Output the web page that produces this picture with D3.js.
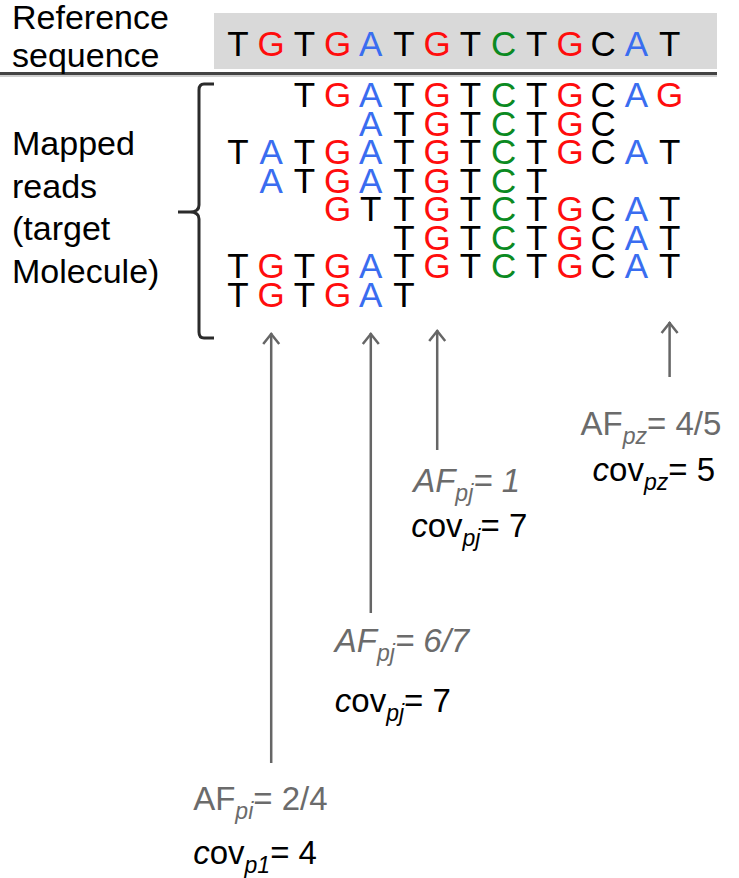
<!DOCTYPE html>
<html>
<head>
<meta charset="utf-8">
<script src="https://cdn.jsdelivr.net/npm/d3@7"></script>
<style>
  body { margin: 0; background: #fff; }
  text { font-family: "Liberation Sans", Arial, Helvetica, sans-serif; }
</style>
</head>
<body>
<div id="svg-container"></div>
<script>
// data
const refSeq = "TGTGATGTCTGCAT".split("");
const readStarts = [2, 4, 0, 1, 3, 5, 0, 0];
const readSeqs = ["TGATGTCTGCAG", "ATGTCTGC", "TATGATGTCTGCAT", "ATGATGTCT",
    "GTTGTCTGCAT", "TGTCTGCAT", "TGTGATGTCTGCAT", "TGTGAT"];
const siteCols = [1, 4, 6, 13];
const afSubs = ["pi", "pj", "pj", "pz"];
const afValues = ["2/4", "6/7", "1", "4/5"];
const afItalic = [false, true, true, false];
const covSubs = ["p1", "pj", "pj", "pz"];
const covValues = [4, 7, 7, 5];
const refLabel = ["Reference", "sequence"];
const readsLabel = ["Mapped", "reads", "(target", "Molecule)"];
const plainCCols = [11]; // the C in this column is drawn black

// layout of the annotations under the arrows
const arrowTop = [333, 333, 330, 322];
const arrowBottom = [763, 613, 450, 377];
const afDx = [-78, -36, -24, -89];
const covDx = [-78, -36, -26, -77];
const afY = [810, 652, 492, 435];
const covY = [864, 712, 537, 481];

const svgWidth = 739;
const svgHeight = 878;

const svg = d3.select("#svg-container")
    .append("svg")
    .attr("width", svgWidth)
    .attr("height", svgHeight);

const x = d3.scaleLinear().domain([0, refSeq.length - 1]).range([238, 669.6]);
const y = d3.scaleLinear().domain([0, readSeqs.length - 1]).range([107, 307]);

const baseColor = { T: "#000000", G: "#ff0d0d", A: "#3a6df0", C: "#0b8a22" };
const colorOf = (b, col) => (b === "C" && plainCCols.includes(col)) ? "#000000" : baseColor[b];

// grey box behind the reference
svg.append("rect")
    .attr("x", 214).attr("y", 13)
    .attr("width", 503).attr("height", 56)
    .attr("fill", "#d9d9d9");

// separator line
svg.append("line")
    .attr("x1", 0).attr("x2", 717)
    .attr("y1", 76).attr("y2", 76)
    .attr("stroke", "#cfcfcf").attr("stroke-width", 2);
svg.append("line")
    .attr("x1", 0).attr("x2", 717)
    .attr("y1", 73.5).attr("y2", 73.5)
    .attr("stroke", "#444").attr("stroke-width", 3);

// left labels
svg.selectAll(".ref-label")
    .data(refLabel)
    .join("text")
    .attr("class", "ref-label")
    .attr("x", 12)
    .attr("y", (d, i) => 29 + i * 38)
    .attr("font-size", 34)
    .text(d => d);

svg.selectAll(".reads-label")
    .data(readsLabel)
    .join("text")
    .attr("class", "reads-label")
    .attr("x", 12)
    .attr("y", (d, i) => 155 + i * 42.5)
    .attr("font-size", 34)
    .text(d => d);

// reference sequence
svg.selectAll(".ref-base")
    .data(refSeq)
    .join("text")
    .attr("class", "ref-base")
    .attr("x", (d, i) => x(i))
    .attr("y", 56)
    .attr("text-anchor", "middle")
    .attr("font-size", 35)
    .attr("fill", (d, i) => colorOf(d, i))
    .text(d => d);

// mapped reads
const readBases = readSeqs.flatMap((s, r) =>
    s.split("").map((b, k) => ({ b, row: r, col: readStarts[r] + k })));

svg.selectAll(".read-base")
    .data(readBases)
    .join("text")
    .attr("class", "read-base")
    .attr("x", d => x(d.col))
    .attr("y", d => y(d.row))
    .attr("text-anchor", "middle")
    .attr("font-size", 35)
    .attr("fill", d => colorOf(d.b, d.col))
    .text(d => d.b);

// brace
svg.append("path")
    .attr("d", "M 214 84 L 204 84 Q 199 84 199 90 L 199 205 Q 199 212 190 212 L 178 212 " +
        "L 190 212 Q 199 212 199 219 L 199 332 Q 199 338 204 338 L 214 338")
    .attr("fill", "none")
    .attr("stroke", "#2b2b2b")
    .attr("stroke-width", 3);

// arrows
siteCols.forEach((c, i) => {
    const ax = x(c);
    svg.append("line")
        .attr("x1", ax).attr("x2", ax)
        .attr("y1", arrowTop[i]).attr("y2", arrowBottom[i])
        .attr("stroke", "#666").attr("stroke-width", 2.5);
    svg.append("path")
        .attr("d", `M ${ax - 8} ${arrowTop[i] + 11} L ${ax} ${arrowTop[i] + 1} L ${ax + 8} ${arrowTop[i] + 11}`)
        .attr("fill", "none")
        .attr("stroke", "#666").attr("stroke-width", 2.5);
});

// AF and coverage labels
siteCols.forEach((c, i) => {
    const ax = x(c);
    const it = afItalic[i] ? "italic" : "normal";

    const af = svg.append("text")
        .attr("x", ax + afDx[i])
        .attr("y", afY[i])
        .attr("font-size", 33)
        .attr("fill", "#6b6b6b");
    af.append("tspan").attr("font-style", it).text("AF");
    af.append("tspan").attr("font-style", "italic").attr("font-size", 23)
        .attr("dy", 9).text(afSubs[i]);
    af.append("tspan").attr("font-style", it).attr("dy", -9).text("= " + afValues[i]);

    const cov = svg.append("text")
        .attr("x", ax + covDx[i])
        .attr("y", covY[i])
        .attr("font-size", 33)
        .attr("fill", "#000");
    cov.append("tspan").attr("font-style", "italic").text("c");
    cov.append("tspan").text("ov");
    cov.append("tspan").attr("font-style", "italic").attr("font-size", 23)
        .attr("dy", 9).text(covSubs[i]);
    cov.append("tspan").attr("dy", -9).text("= " + covValues[i]);
});
</script>
</body>
</html>
